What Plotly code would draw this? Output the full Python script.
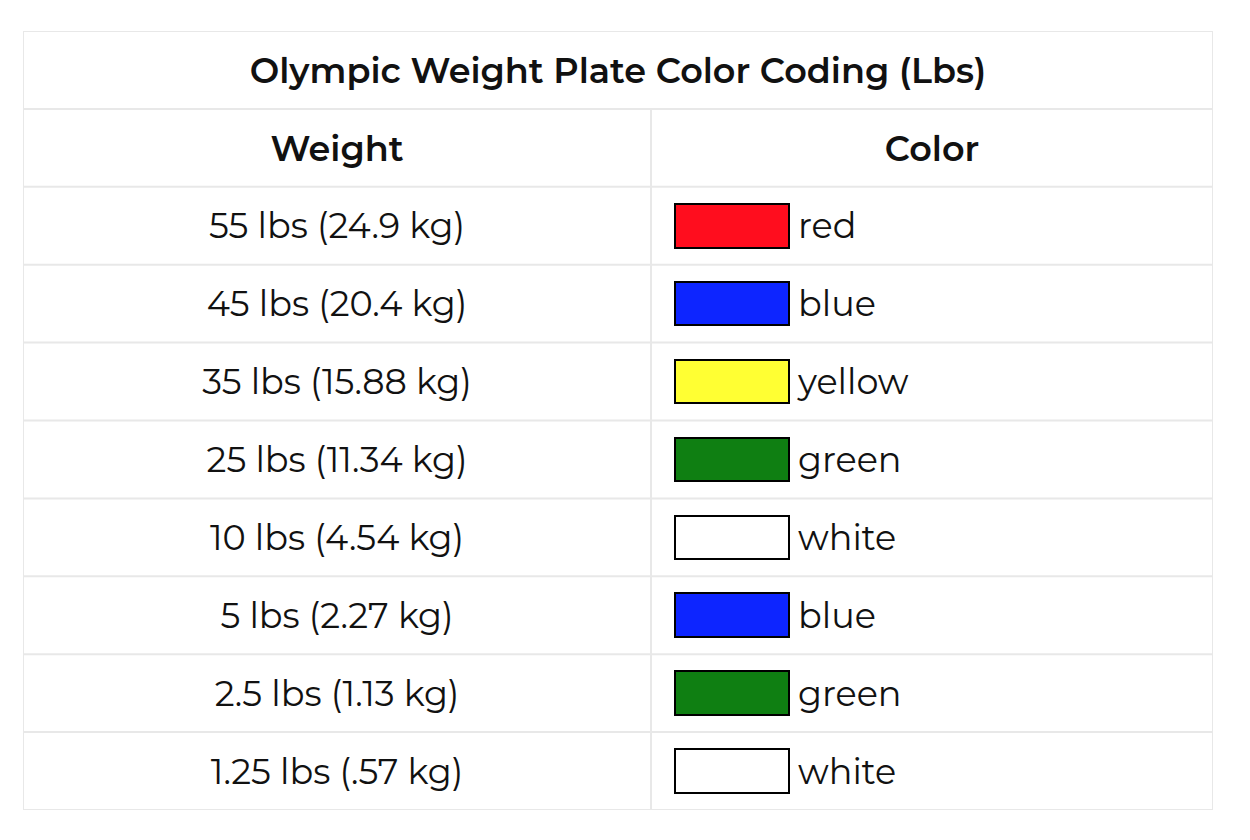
import plotly.graph_objects as go

# table content
title = "Olympic Weight Plate Color Coding (Lbs)"
headers = ["Weight", "Color"]
weights = ["55 lbs (24.9 kg)", "45 lbs (20.4 kg)", "35 lbs (15.88 kg)", "25 lbs (11.34 kg)",
           "10 lbs (4.54 kg)", "5 lbs (2.27 kg)", "2.5 lbs (1.13 kg)", "1.25 lbs (.57 kg)"]
color_names = ["red", "blue", "yellow", "green", "white", "blue", "green", "white"]
swatch_hex = ["#FF0D1E", "#0D25FF", "#FFFF33", "#0F7F12", "#FFFFFF", "#0D25FF", "#0F7F12", "#FFFFFF"]

FONT = "Montserrat, Noto Sans, sans-serif"
GRID = "#e8e8e8"
W_TABLE = 1190
COL1 = 628
n_rows = len(weights) + 2
row_y = [i + 2.5 for i in range(len(weights))]
text_y = [y + 0.05 for y in row_y]  # nudge text baseline to sit centred

fig = go.Figure()

# colour swatches as horizontal bars
fig.add_trace(go.Bar(
    y=row_y, x=[114] * len(weights), base=[COL1 + 24] * len(weights),
    orientation="h", width=0.56,
    marker=dict(color=swatch_hex, line=dict(color="black", width=2)),
    hoverinfo="skip", showlegend=False))

# weight column
fig.add_trace(go.Scatter(
    x=[COL1 / 2] * len(weights), y=text_y, mode="text", text=weights,
    textfont=dict(family=FONT, size=35, color="#111"), textposition="middle center",
    hoverinfo="skip", showlegend=False))

# colour name column
fig.add_trace(go.Scatter(
    x=[COL1 + 147] * len(weights), y=text_y, mode="text", text=color_names,
    textfont=dict(family=FONT, size=35, color="#111"), textposition="middle right",
    hoverinfo="skip", showlegend=False))

# title + headers
fig.add_trace(go.Scatter(
    x=[W_TABLE / 2, COL1 / 2, COL1 + (W_TABLE - COL1) / 2], y=[0.55, 1.55, 1.55],
    mode="text", text=[title] + headers,
    textfont=dict(family=FONT, size=35, color="#111", weight=600),
    textposition="middle center", hoverinfo="skip", showlegend=False))

# grid lines
shapes = []
for i in range(n_rows + 1):
    shapes.append(dict(type="line", x0=0, x1=W_TABLE, y0=i, y1=i, xref="x", yref="y",
                       line=dict(color=GRID, width=2), layer="below"))
shapes.append(dict(type="line", x0=0, x1=0, y0=0, y1=n_rows, line=dict(color=GRID, width=2), layer="below"))
shapes.append(dict(type="line", x0=W_TABLE, x1=W_TABLE, y0=0, y1=n_rows, line=dict(color=GRID, width=2), layer="below"))
shapes.append(dict(type="line", x0=COL1, x1=COL1, y0=1, y1=n_rows, line=dict(color=GRID, width=2), layer="below"))

fig.update_layout(
    width=1250, height=840,
    margin=dict(l=15, r=45, t=23, b=38),
    paper_bgcolor="white", plot_bgcolor="white",
    xaxis=dict(range=[0, W_TABLE], visible=False, fixedrange=True),
    yaxis=dict(range=[n_rows, 0], visible=False, fixedrange=True),
    shapes=shapes, bargap=0,
)

fig.write_html("out.html")
